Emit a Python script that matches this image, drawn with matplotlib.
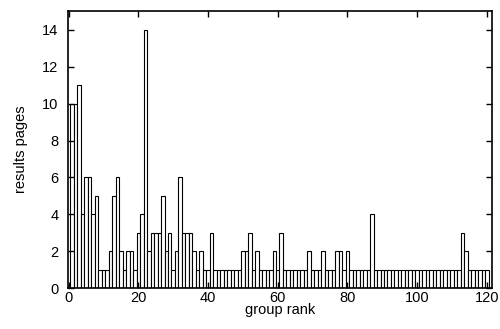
import numpy as np
import matplotlib
matplotlib.use("Agg")
import matplotlib.pyplot as plt

plt.rcParams['font.family'] = ['Liberation Sans', 'DejaVu Sans']

# number of results pages per group, by group rank (1..120)
ranks = np.arange(1, 121)
pages = [10, 10, 11, 4, 6, 6, 4, 5, 1, 1,
         1, 2, 5, 6, 2, 1, 2, 2, 1, 3,
         4, 14, 2, 3, 3, 3, 5, 2, 3, 1,
         2, 6, 3, 3, 3, 2, 1, 2, 1, 1,
         3, 1, 1, 1, 1, 1, 1, 1, 1, 2,
         2, 3, 1, 2, 1, 1, 1, 1, 2, 1,
         3, 1, 1, 1, 1, 1, 1, 1, 2, 1,
         1, 1, 2, 1, 1, 1, 2, 2, 1, 2,
         1, 1, 1, 1, 1, 1, 4, 1, 1, 1,
         1, 1, 1, 1, 1, 1, 1, 1, 1, 1,
         1, 1, 1, 1, 1, 1, 1, 1, 1, 1,
         1, 1, 3, 2, 1, 1, 1, 1, 1, 1]

xticks = [0, 20, 40, 60, 80, 100, 120]
yticks = [0, 2, 4, 6, 8, 10, 12, 14]

fig = plt.figure(figsize=(5.0, 3.29), dpi=100)
ax = fig.add_axes([0.136, 0.1246, 0.848, 0.842])

ax.bar(ranks, pages, width=1.0, facecolor='white', edgecolor='black', linewidth=0.8)

ax.set_xlim(-0.2, 121.5)
ax.set_ylim(0, 15.03)
ax.set_xticks(xticks)
ax.set_yticks(yticks)
ax.tick_params(direction='in', top=True, right=True, length=4, width=1, labelsize=10.5)
ax.tick_params(axis='y', pad=7)
ax.tick_params(axis='x', pad=2)
for s in ax.spines.values():
    s.set_linewidth(1.2)

ax.set_xlabel("group rank", fontsize=10.5, labelpad=-1)
ax.set_ylabel("results pages", fontsize=10.5, labelpad=10)

fig.savefig("out.png", dpi=100)
